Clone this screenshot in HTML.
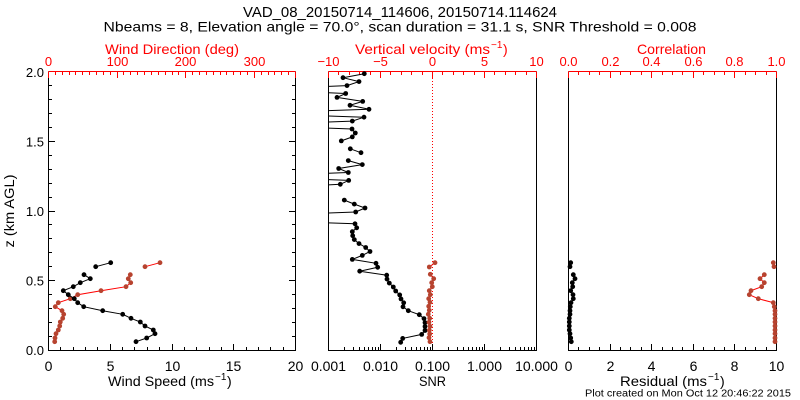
<!DOCTYPE html>
<html><head><meta charset="utf-8"><style>
html,body{margin:0;padding:0;background:#fff;width:800px;height:400px;overflow:hidden}
svg{display:block}
text{font-family:"Liberation Sans",sans-serif;fill:#000}
.r{fill:#f00}
</style></head><body>
<svg width="800" height="400" viewBox="0 0 800 400" xmlns="http://www.w3.org/2000/svg">
<defs>
<marker id="mb" markerUnits="userSpaceOnUse" markerWidth="6" markerHeight="6" refX="3" refY="3" overflow="visible"><circle cx="3" cy="3" r="2.4" fill="#000"/></marker>
<marker id="mr" markerUnits="userSpaceOnUse" markerWidth="6" markerHeight="6" refX="3" refY="3" overflow="visible"><circle cx="3" cy="3" r="2.4" fill="#b7432f"/></marker>
<clipPath id="c2"><rect x="328.5" y="71" width="208" height="280"/></clipPath>
</defs>

<!-- Titles -->
<text x="400" y="17" font-size="15" text-anchor="middle" textLength="314" lengthAdjust="spacingAndGlyphs">VAD_08_20150714_114606, 20150714.114624</text>
<text x="400" y="31.5" font-size="14" text-anchor="middle" textLength="593" lengthAdjust="spacingAndGlyphs">Nbeams = 8, Elevation angle = 70.0°, scan duration = 31.1 s, SNR Threshold = 0.008</text>

<!-- Top axis titles (red) -->
<text class="r" x="105" y="54" font-size="14" textLength="134" lengthAdjust="spacingAndGlyphs">Wind Direction (deg)</text>
<text class="r" x="355" y="54" font-size="14" textLength="135" lengthAdjust="spacingAndGlyphs">Vertical velocity (ms</text>
<text class="r" x="491" y="48" font-size="10">−1</text>
<text class="r" x="503" y="54" font-size="14">)</text>
<text class="r" x="637" y="54" font-size="14" textLength="69" lengthAdjust="spacingAndGlyphs">Correlation</text>

<!-- Top tick labels -->
<g font-size="13" text-anchor="middle">
<text class="r" x="48.5" y="66">0</text>
<text class="r" x="117.5" y="66">100</text>
<text class="r" x="185.5" y="66">200</text>
<text class="r" x="254.5" y="66">300</text>
<text class="r" x="328.5" y="66">−10</text>
<text class="r" x="380.5" y="66">−5</text>
<text class="r" x="432.5" y="66">0</text>
<text class="r" x="484.5" y="66">5</text>
<text class="r" x="536.5" y="66">10</text>
<text class="r" x="568.5" y="66">0.0</text>
<text class="r" x="610.5" y="66">0.2</text>
<text class="r" x="651.5" y="66">0.4</text>
<text class="r" x="693.5" y="66">0.6</text>
<text class="r" x="734.5" y="66">0.8</text>
<text class="r" x="776.5" y="66">1.0</text>
</g>

<!-- Left y labels -->
<g font-size="13" text-anchor="end">
<text x="44" y="77">2.0</text>
<text x="44" y="146.5">1.5</text>
<text x="44" y="216">1.0</text>
<text x="44" y="285.5">0.5</text>
<text x="44" y="355">0.0</text>
</g>
<text transform="translate(14,211) rotate(-90)" text-anchor="middle" font-size="14" textLength="73" lengthAdjust="spacingAndGlyphs">z (km AGL)</text>

<!-- Bottom tick labels -->
<g font-size="14" text-anchor="middle">
<text x="48.5" y="371">0</text>
<text x="110.5" y="371">5</text>
<text x="172.5" y="371">10</text>
<text x="233.5" y="371">15</text>
<text x="295.5" y="371">20</text>
<text x="328.5" y="371">0.001</text>
<text x="380.5" y="371">0.010</text>
<text x="432.5" y="371">0.100</text>
<text x="484.5" y="371">1.000</text>
<text x="536.5" y="371">10.000</text>
<text x="568.5" y="371">0</text>
<text x="610.5" y="371">2</text>
<text x="651.5" y="371">4</text>
<text x="693.5" y="371">6</text>
<text x="734.5" y="371">8</text>
<text x="776.5" y="371">10</text>
</g>

<!-- Bottom axis titles -->
<text x="108" y="386" font-size="14" textLength="106" lengthAdjust="spacingAndGlyphs">Wind Speed (ms</text>
<text x="215" y="380" font-size="10">−1</text>
<text x="227" y="386" font-size="14">)</text>
<text x="432.5" y="386" font-size="14" text-anchor="middle" textLength="27" lengthAdjust="spacingAndGlyphs">SNR</text>
<text x="620" y="386" font-size="14" textLength="87" lengthAdjust="spacingAndGlyphs">Residual (ms</text>
<text x="708" y="380" font-size="10">−1</text>
<text x="720" y="386" font-size="14">)</text>

<text x="585" y="396.5" font-size="10" textLength="206" lengthAdjust="spacingAndGlyphs">Plot created on Mon Oct 12 20:46:22 2015</text>

<!-- Dotted threshold line -->
<line x1="432.5" y1="72" x2="432.5" y2="350" stroke="#f00" stroke-width="1" stroke-dasharray="1 2" shape-rendering="crispEdges"/>

<!-- Axes frames (black) -->
<g stroke="#000" stroke-width="1" fill="none" shape-rendering="crispEdges">
<path d="M48.5 71.5V350.5H295.5V71.5"/>
<path d="M328.5 71.5V350.5H536.5V71.5"/>
<path d="M568.5 71.5V350.5H776.5V71.5"/>
<!-- left plot bottom ticks -->
<path d="M60.5 350v-3M73.5 350v-3M85.5 350v-3M97.5 350v-3M110.5 350v-6M122.5 350v-3M134.5 350v-3M147.5 350v-3M159.5 350v-3M172.5 350v-6M184.5 350v-3M196.5 350v-3M209.5 350v-3M221.5 350v-3M233.5 350v-6M246.5 350v-3M258.5 350v-3M270.5 350v-3M283.5 350v-3"/>
<!-- left plot y ticks left -->
<path d="M49 336.5h3M49 322.5h3M49 308.5h3M49 294.5h3M49 280.5h6M49 266.5h3M49 252.5h3M49 238.5h3M49 224.5h3M49 211.5h6M49 197.5h3M49 183.5h3M49 169.5h3M49 155.5h3M49 141.5h6M49 127.5h3M49 113.5h3M49 99.5h3M49 85.5h3"/>
<!-- left plot y ticks right -->
<path d="M295 336.5h-3M295 322.5h-3M295 308.5h-3M295 294.5h-3M295 280.5h-6M295 266.5h-3M295 252.5h-3M295 238.5h-3M295 224.5h-3M295 211.5h-6M295 197.5h-3M295 183.5h-3M295 169.5h-3M295 155.5h-3M295 141.5h-6M295 127.5h-3M295 113.5h-3M295 99.5h-3M295 85.5h-3"/>
<!-- middle log ticks -->
<path d="M344.5 350v-3M353.5 350v-3M359.5 350v-3M364.5 350v-3M368.5 350v-3M372.5 350v-3M375.5 350v-3M378.5 350v-3M380.5 350v-6M396.5 350v-3M405.5 350v-3M411.5 350v-3M416.5 350v-3M420.5 350v-3M424.5 350v-3M427.5 350v-3M430.5 350v-3M432.5 350v-6M448.5 350v-3M457.5 350v-3M463.5 350v-3M468.5 350v-3M472.5 350v-3M476.5 350v-3M479.5 350v-3M482.5 350v-3M484.5 350v-6M500.5 350v-3M509.5 350v-3M515.5 350v-3M520.5 350v-3M524.5 350v-3M528.5 350v-3M531.5 350v-3M534.5 350v-3"/>
<!-- right bottom ticks -->
<path d="M578.5 350v-3M589.5 350v-3M599.5 350v-3M610.5 350v-6M620.5 350v-3M630.5 350v-3M641.5 350v-3M651.5 350v-6M662.5 350v-3M672.5 350v-3M682.5 350v-3M693.5 350v-6M703.5 350v-3M714.5 350v-3M724.5 350v-3M734.5 350v-6M745.5 350v-3M755.5 350v-3M766.5 350v-3"/>
</g>

<!-- Top red axes -->
<g stroke="#f00" stroke-width="1" fill="none" shape-rendering="crispEdges">
<path d="M48.5 71.5H295.5M328.5 71.5H536.5M568.5 71.5H776.5"/>
<path d="M48.5 72v6M55.5 72v3M62.5 72v3M69.5 72v3M75.5 72v3M82.5 72v3M89.5 72v3M96.5 72v3M103.5 72v3M110.5 72v3M117.5 72v6M123.5 72v3M130.5 72v3M137.5 72v3M144.5 72v3M151.5 72v3M158.5 72v3M165.5 72v3M172.5 72v3M178.5 72v3M185.5 72v6M192.5 72v3M199.5 72v3M206.5 72v3M213.5 72v3M220.5 72v3M226.5 72v3M233.5 72v3M240.5 72v3M247.5 72v3M254.5 72v6M261.5 72v3M268.5 72v3M274.5 72v3M281.5 72v3M288.5 72v3M295.5 72v6"/>
<path d="M328.5 72v6M338.5 72v3M349.5 72v3M359.5 72v3M370.5 72v3M380.5 72v6M390.5 72v3M401.5 72v3M411.5 72v3M422.5 72v3M432.5 72v6M442.5 72v3M453.5 72v3M463.5 72v3M474.5 72v3M484.5 72v6M494.5 72v3M505.5 72v3M515.5 72v3M526.5 72v3M536.5 72v6"/>
<path d="M568.5 72v6M578.5 72v3M589.5 72v3M599.5 72v3M610.5 72v6M620.5 72v3M630.5 72v3M641.5 72v3M651.5 72v6M662.5 72v3M672.5 72v3M682.5 72v3M693.5 72v6M703.5 72v3M714.5 72v3M724.5 72v3M734.5 72v6M745.5 72v3M755.5 72v3M766.5 72v3M776.5 72v6"/>
</g>

<!-- Left plot data -->
<g fill="none" stroke-width="1">
<g stroke="#f00" marker-start="url(#mr)" marker-mid="url(#mr)" marker-end="url(#mr)">
<polyline points="160,262.7 145,266.7"/>
<polyline points="130.3,274.7 128.3,278.7 130.7,282.7 126,286.7 101,290.7 77.7,294.7 70.3,298.7 58.3,302.7 55.3,306.7 62,310.7 63.7,314.3 62.7,318.3 60.3,322 59.7,326 58.3,330 56,333.7 55,338 54.7,341.7"/>
</g>
<g stroke="#000" marker-start="url(#mb)" marker-mid="url(#mb)" marker-end="url(#mb)">
<polyline points="110.7,262.7 95.7,266.7"/>
<polyline points="84,274.7 90.3,278.7 80.3,282.7 73.3,286.7 63.3,290.7 68.3,294.7 74.3,298.7 77.7,302.7 83.7,306.7 102.7,310.7 122.7,314.3 131,318.3 140.3,322 145,326 153.3,330 155,333.7 146.7,338 136,341.7"/>
</g>
</g>

<!-- Middle plot data -->
<g fill="none" stroke-width="1" clip-path="url(#c2)">
<g stroke="#000" marker-start="url(#mb)" marker-mid="url(#mb)" marker-end="url(#mb)">
<polyline points="364.3,73.7 343,77.7 359,81.6 347,85.6 250,89.5 345.7,93.5 337,97.4 362.7,101.4 350,105.3 369,109.3 250,113.2 364,117.2 352.3,121.1 250,125.1 352,129 355.3,133 352.3,136.9 341.3,140.9"/>
<polyline points="350.3,148.8 361,152.7"/>
<polyline points="348.3,160.6 362.3,164.6 338.7,168.5 348.3,172.5 250,176.4 348.7,180.4 340.3,184.3 250,188.3"/>
<polyline points="344.3,200.1 354.3,204.1 365,208 355.7,212 250,215.9 250,219.9 355,223.8 356.7,227.8 352.3,231.7 352.7,235.7 354.3,239.6 359,243.6 365.7,247.5 370,251.5 362.3,255.4 352.3,259.4 376,263.3 377.7,267.3 359.7,271.2 386.7,275.2 387,279.1 389.3,283.1 393.3,287 395.7,291 399.7,294.9 401,298.9 403.7,302.8 403,306.8 408.3,310.7 419.3,314.7 424,318.6 425,322.6 425,326.5 425,330.5 421.7,334.4 402.7,338.4 400.7,342.3"/>
</g>
<g stroke="#f00" marker-start="url(#mr)" marker-mid="url(#mr)" marker-end="url(#mr)">
<polyline points="435,262.7 429.3,267"/>
<polyline points="430.3,274.3 433.7,278.7 431.7,282.7 432.3,286.7 429.3,290.7 430.3,294.7 428.7,298.7 430,302.3 428.7,306.3 429.3,310.3 428.3,314.3 429.7,318.3 429,322.3 430,326.3 429.3,330.3 429.7,334 429,337.7 430,341.7"/>
</g>
</g>

<!-- Right plot data -->
<g fill="none" stroke-width="1">
<g stroke="#000" marker-start="url(#mb)" marker-mid="url(#mb)" marker-end="url(#mb)">
<polyline points="570.7,262.7 570,266.7"/>
<polyline points="573.3,274.7 575,278.7 572.3,282.7 572.7,286.7 570.7,290.7 573,294.7 573.3,298.7 571,302.7 570.3,306.7 570,310.7 570,314.3 569.3,318.3 569.3,322 569.3,326 569.3,330 570,333.7 570.7,338 571.3,341.7"/>
</g>
<g stroke="#f00" marker-start="url(#mr)" marker-mid="url(#mr)" marker-end="url(#mr)">
<polyline points="773.3,262.7 774,266.7"/>
<polyline points="764.3,274.7 760,278.7 764.3,282.7 761.7,286.7 751,290.7 749.3,294.7 758.3,298.7 773.3,302.7 774.3,306.7 775,310.7 775,314.3 775,318.3 775,322 775,326 775,330 775,333.7 775,338 775,341.7"/>
</g>
</g>
</svg>
</body></html>
